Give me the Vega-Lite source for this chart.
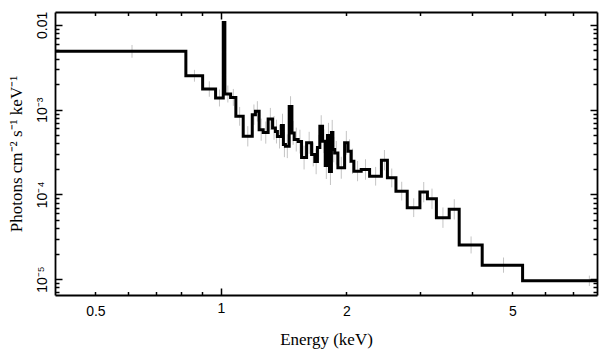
{
  "$schema": "https://vega.github.io/schema/vega-lite/v6.json",
  "width": 542,
  "height": 283,
  "autosize": "none",
  "padding": {"left": 55, "top": 12, "right": 12, "bottom": 62},
  "background": "white",
  "config": {
    "view": {"stroke": null},
    "axis": {
      "grid": false,
      "domainColor": "#000000",
      "domainWidth": 1.8,
      "tickColor": "#000000",
      "tickWidth": 1.5,
      "labelColor": "#000000",
      "titleColor": "#000000",
      "labelOverlap": false,
      "labelFlush": false
    }
  },
  "data": {
    "values": [
      {"e": 0.400, "f": 4.88e-3, "c": 0.612, "lo": 4.10e-3, "hi": 5.80e-3},
      {"e": 0.824, "f": 2.51e-3, "c": 0.864, "lo": 2.14e-3, "hi": 2.95e-3},
      {"e": 0.904, "f": 1.752e-3, "c": 0.938, "lo": 1.42e-3, "hi": 2.16e-3},
      {"e": 0.971, "f": 1.373e-3, "c": 0.992, "lo": 1.09e-3, "hi": 1.73e-3},
      {"e": 1.013, "f": 1.064e-2, "c": null, "lo": null, "hi": null},
      {"e": 1.022, "f": 1.530e-3, "c": 1.039, "lo": 1.215e-3, "hi": 1.926e-3},
      {"e": 1.055, "f": 1.395e-3, "c": 1.071, "lo": 1.108e-3, "hi": 1.756e-3},
      {"e": 1.086, "f": 8.34e-4, "c": 1.109, "lo": 6.46e-4, "hi": 1.077e-3},
      {"e": 1.131, "f": 4.85e-4, "c": 1.160, "lo": 3.68e-4, "hi": 6.39e-4},
      {"e": 1.189, "f": 8.73e-4, "c": 1.200, "lo": 6.62e-4, "hi": 1.151e-3},
      {"e": 1.210, "f": 9.55e-4, "c": 1.223, "lo": 7.24e-4, "hi": 1.259e-3},
      {"e": 1.235, "f": 5.81e-4, "c": 1.249, "lo": 4.30e-4, "hi": 7.84e-4},
      {"e": 1.263, "f": 5.36e-4, "c": 1.281, "lo": 3.97e-4, "hi": 7.24e-4},
      {"e": 1.298, "f": 7.77e-4, "c": 1.314, "lo": 5.76e-4, "hi": 1.049e-3},
      {"e": 1.330, "f": 6.09e-4, "c": 1.341, "lo": 4.41e-4, "hi": 8.41e-4},
      {"e": 1.351, "f": 5.51e-4, "c": 1.359, "lo": 3.99e-4, "hi": 7.61e-4},
      {"e": 1.366, "f": 4.81e-4, "c": 1.382, "lo": 3.48e-4, "hi": 6.64e-4},
      {"e": 1.397, "f": 6.48e-4, "c": 1.405, "lo": 4.69e-4, "hi": 8.95e-4},
      {"e": 1.412, "f": 3.88e-4, "c": 1.420, "lo": 2.75e-4, "hi": 5.48e-4},
      {"e": 1.428, "f": 3.70e-4, "c": 1.443, "lo": 2.68e-4, "hi": 5.11e-4},
      {"e": 1.458, "f": 1.093e-3, "c": 1.469, "lo": 8.29e-4, "hi": 1.441e-3},
      {"e": 1.480, "f": 5.32e-4, "c": 1.490, "lo": 3.85e-4, "hi": 7.35e-4},
      {"e": 1.499, "f": 4.44e-4, "c": 1.516, "lo": 3.21e-4, "hi": 6.13e-4},
      {"e": 1.532, "f": 4.20e-4, "c": 1.547, "lo": 3.04e-4, "hi": 5.80e-4},
      {"e": 1.561, "f": 2.72e-4, "c": 1.583, "lo": 1.97e-4, "hi": 3.76e-4},
      {"e": 1.605, "f": 4.06e-4, "c": 1.628, "lo": 3.01e-4, "hi": 5.48e-4},
      {"e": 1.650, "f": 2.96e-4, "c": 1.665, "lo": 2.14e-4, "hi": 4.09e-4},
      {"e": 1.680, "f": 2.44e-4, "c": 1.692, "lo": 1.73e-4, "hi": 3.45e-4},
      {"e": 1.704, "f": 3.57e-4, "c": 1.716, "lo": 2.53e-4, "hi": 5.04e-4},
      {"e": 1.727, "f": 6.36e-4, "c": 1.740, "lo": 4.71e-4, "hi": 8.59e-4},
      {"e": 1.753, "f": 4.24e-4, "c": 1.766, "lo": 3.07e-4, "hi": 5.85e-4},
      {"e": 1.779, "f": 2.19e-4, "c": 1.790, "lo": 1.52e-4, "hi": 3.16e-4},
      {"e": 1.801, "f": 4.94e-4, "c": 1.811, "lo": 3.50e-4, "hi": 6.98e-4},
      {"e": 1.821, "f": 1.86e-4, "c": 1.831, "lo": 1.29e-4, "hi": 2.69e-4},
      {"e": 1.841, "f": 5.36e-4, "c": 1.849, "lo": 3.79e-4, "hi": 7.57e-4},
      {"e": 1.856, "f": 3.38e-4, "c": 1.865, "lo": 2.39e-4, "hi": 4.77e-4},
      {"e": 1.874, "f": 3.09e-4, "c": 1.891, "lo": 2.24e-4, "hi": 4.27e-4},
      {"e": 1.908, "f": 2.06e-4, "c": 1.944, "lo": 1.53e-4, "hi": 2.78e-4},
      {"e": 1.980, "f": 4.06e-4, "c": 1.999, "lo": 2.94e-4, "hi": 5.61e-4},
      {"e": 2.017, "f": 3.23e-4, "c": 2.035, "lo": 2.34e-4, "hi": 4.46e-4},
      {"e": 2.053, "f": 2.46e-4, "c": 2.069, "lo": 1.74e-4, "hi": 3.47e-4},
      {"e": 2.084, "f": 1.88e-4, "c": 2.127, "lo": 1.43e-4, "hi": 2.48e-4},
      {"e": 2.170, "f": 1.97e-4, "c": 2.222, "lo": 1.49e-4, "hi": 2.60e-4},
      {"e": 2.273, "f": 1.64e-4, "c": 2.350, "lo": 1.27e-4, "hi": 2.11e-4},
      {"e": 2.426, "f": 2.53e-4, "c": 2.467, "lo": 1.92e-4, "hi": 3.34e-4},
      {"e": 2.508, "f": 1.57e-4, "c": 2.569, "lo": 1.21e-4, "hi": 2.02e-4},
      {"e": 2.629, "f": 1.093e-4, "c": 2.714, "lo": 8.47e-5, "hi": 1.41e-4},
      {"e": 2.798, "f": 6.97e-5, "c": 2.900, "lo": 5.40e-5, "hi": 9.00e-5},
      {"e": 3.001, "f": 1.064e-4, "c": 3.065, "lo": 8.07e-5, "hi": 1.40e-4},
      {"e": 3.128, "f": 8.90e-5, "c": 3.208, "lo": 6.75e-5, "hi": 1.17e-4},
      {"e": 3.287, "f": 5.32e-5, "c": 3.408, "lo": 4.03e-5, "hi": 7.01e-5},
      {"e": 3.528, "f": 6.66e-5, "c": 3.628, "lo": 5.05e-5, "hi": 8.78e-5},
      {"e": 3.728, "f": 2.53e-5, "c": 3.981, "lo": 2.01e-5, "hi": 3.19e-5},
      {"e": 4.233, "f": 1.461e-5, "c": 4.762, "lo": 1.19e-5, "hi": 1.80e-5},
      {"e": 5.291, "f": 9.55e-6, "c": 7.65, "lo": 8.30e-6, "hi": 1.10e-5},
      {"e": 10.0, "f": 9.55e-6, "c": null, "lo": null, "hi": null}
    ]
  },
  "layer": [
    {
      "mark": {"type": "rule", "color": "#c4c4c4", "strokeWidth": 1, "clip": true},
      "encoding": {
        "x": {
          "field": "c", "type": "quantitative",
          "scale": {"type": "log", "domain": [0.4, 7.98], "nice": false, "zero": false},
          "axis": {
            "orient": "bottom",
            "values": [0.5, 0.6, 0.7, 0.8, 0.9, 1, 2, 3, 4, 5, 6, 7],
            "labelExpr": "datum.value==0.5?'0.5':datum.value==1?'1':datum.value==2?'2':datum.value==5?'5':''",
            "tickSize": {"condition": {"test": "datum.value==1", "value": -7}, "value": -3.5},
            "labelFont": "Liberation Sans",
            "labelFontSize": 14,
            "labelPadding": 13,
            "title": "Energy (keV)",
            "titleFont": "Liberation Serif",
            "titleFontSize": 17,
            "titleFontWeight": "normal",
            "titlePadding": 13
          }
        },
        "y": {
          "field": "lo", "type": "quantitative",
          "scale": {"type": "log", "domain": [6.5e-6, 0.0142], "nice": false, "zero": false},
          "axis": {
            "orient": "left",
            "values": [7e-6, 8e-6, 9e-6, 1e-5, 2e-5, 3e-5, 4e-5, 5e-5, 6e-5, 7e-5, 8e-5, 9e-5, 1e-4, 2e-4, 3e-4, 4e-4, 5e-4, 6e-4, 7e-4, 8e-4, 9e-4, 1e-3, 2e-3, 3e-3, 4e-3, 5e-3, 6e-3, 7e-3, 8e-3, 9e-3, 0.01],
            "labelExpr": "datum.value==0.01?'0.01':datum.value==0.001?'10⁻³':datum.value==0.0001?'10⁻⁴':datum.value==0.00001?'10⁻⁵':''",
            "tickSize": {"condition": {"test": "datum.value==0.01||datum.value==0.001||datum.value==0.0001||datum.value==0.00001", "value": -7}, "value": -4},
            "labelAngle": -90,
            "labelFont": "Liberation Sans",
            "labelFontSize": 14,
            "labelPadding": 13,
            "title": "Photons cm⁻² s⁻¹ keV⁻¹",
            "titleFont": "Liberation Serif",
            "titleFontSize": 17,
            "titleFontWeight": "normal",
            "titlePadding": 7
          }
        },
        "y2": {"field": "hi"}
      }
    },
    {
      "mark": {"type": "line", "interpolate": "step-after", "color": "#000000", "strokeWidth": 3, "clip": true},
      "encoding": {
        "x": {"field": "e", "type": "quantitative", "axis": null},
        "y": {"field": "f", "type": "quantitative", "axis": null}
      }
    },
    {
      "mark": {"type": "line", "opacity": 0, "clip": true},
      "encoding": {
        "x": {
          "field": "e", "type": "quantitative",
          "axis": {
            "orient": "top",
            "values": [0.5, 0.6, 0.7, 0.8, 0.9, 1, 2, 3, 4, 5, 6, 7],
            "labels": false,
            "title": null,
            "tickSize": {"condition": {"test": "datum.value==1", "value": -7}, "value": -3.5}
          }
        },
        "y": {
          "field": "f", "type": "quantitative",
          "axis": {
            "orient": "right",
            "values": [7e-6, 8e-6, 9e-6, 1e-5, 2e-5, 3e-5, 4e-5, 5e-5, 6e-5, 7e-5, 8e-5, 9e-5, 1e-4, 2e-4, 3e-4, 4e-4, 5e-4, 6e-4, 7e-4, 8e-4, 9e-4, 1e-3, 2e-3, 3e-3, 4e-3, 5e-3, 6e-3, 7e-3, 8e-3, 9e-3, 0.01],
            "labels": false,
            "title": null,
            "tickSize": {"condition": {"test": "datum.value==0.01||datum.value==0.001||datum.value==0.0001||datum.value==0.00001", "value": -7}, "value": -4}
          }
        }
      }
    }
  ],
  "resolve": {"axis": {"x": "independent", "y": "independent"}}
}
